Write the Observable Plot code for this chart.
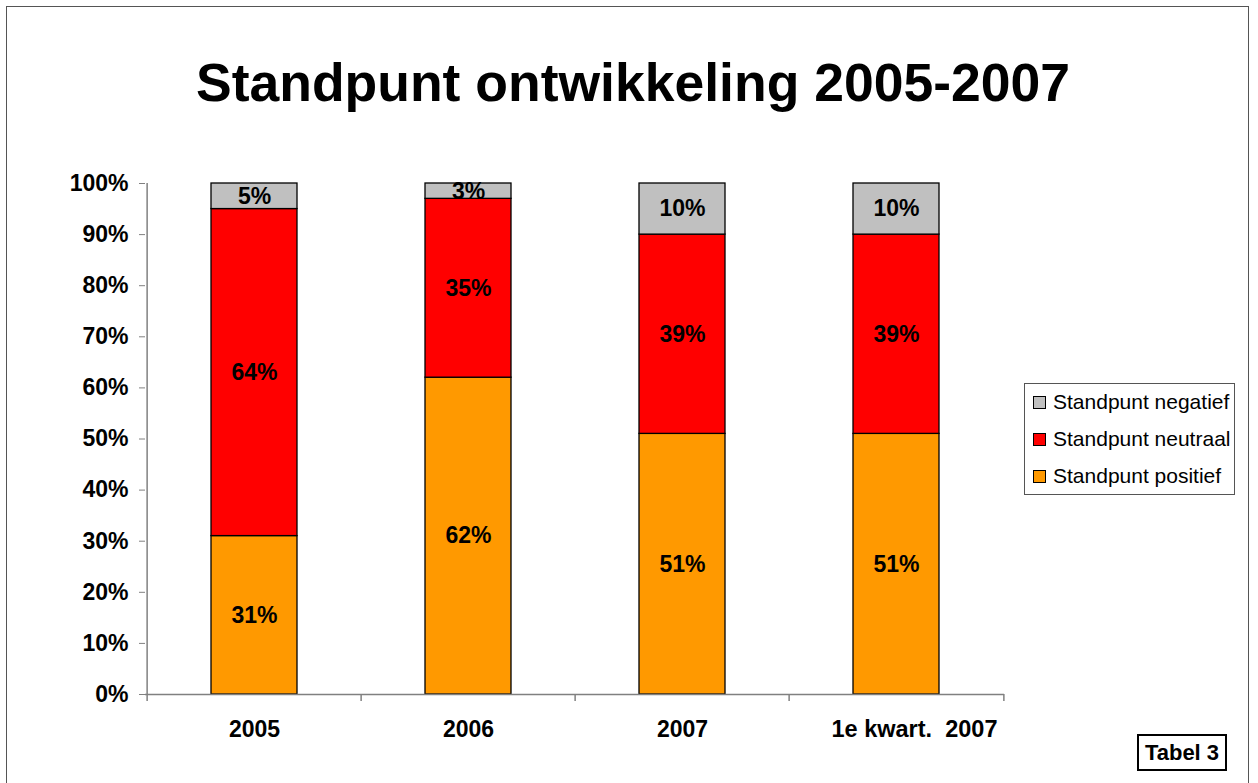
<!DOCTYPE html>
<html><head><meta charset="utf-8">
<script src="https://cdn.jsdelivr.net/npm/d3@7"></script>
<script src="https://cdn.jsdelivr.net/npm/@observablehq/plot@0.6"></script>
<style>
body{margin:0;background:#fff;font-family:"Liberation Sans",Arial,sans-serif;}
#wrap{position:relative;width:1258px;height:783px;overflow:hidden;}
#frame{position:absolute;left:6px;top:6px;width:1241px;height:800px;border:1px solid #555;}
#title{position:absolute;left:0;width:1266px;top:52px;text-align:center;font-weight:bold;font-size:53.5px;}
#legend{position:absolute;left:1024px;top:383px;width:209px;height:110px;border:1px solid #555;font-size:21px;}
.li{position:absolute;left:8px;height:22px;line-height:22px;white-space:nowrap;}
.sw{display:inline-block;width:11px;height:11px;border:1px solid #000;margin-right:7px;vertical-align:0px;}
#tabel{position:absolute;left:1137px;top:734px;width:90px;height:37px;border:2px solid #000;font-weight:bold;font-size:22px;text-align:center;line-height:33px;box-sizing:border-box;}
#chart{position:absolute;left:0;top:0;}
</style></head><body>
<div id="wrap">
<div id="frame"></div>
<div id="title">Standpunt ontwikkeling 2005-2007</div>
<div id="chart"></div>
<div id="legend"></div>
<div id="tabel">Tabel 3</div>
</div>
<script>
const categories = ["2005", "2006", "2007", "1e kwart.  2007"];
const series = ["Standpunt positief", "Standpunt neutraal", "Standpunt negatief"];
const positief = [31, 62, 51, 51];
const neutraal = [64, 35, 39, 39];
const negatief = [5, 3, 10, 10];
const colors = ["#FF9900", "#FF0000", "#C0C0C0"];
const yTicks = [0,10,20,30,40,50,60,70,80,90,100];

const vals = [positief, neutraal, negatief];
const data = [];
categories.forEach((c, i) => {
  series.forEach((s, j) => data.push({cat: c, series: s, value: vals[j][i] / 100}));
});

const W = 1258, H = 783, ml = 145, mr = 254, mt = 183, mb = 89;
const step = (W - ml - mr) / categories.length;
const tickPad = 7 / (H - mt - mb);
const font = '"Liberation Sans", Arial, sans-serif';
const last = categories[categories.length - 1];

const plot = Plot.plot({
  width: W, height: H,
  marginLeft: ml, marginRight: mr, marginTop: mt, marginBottom: mb,
  style: {fontFamily: font, background: "transparent", overflow: "visible"},
  x: {domain: categories, paddingInner: 0.6, paddingOuter: 0.3, label: null},
  y: {domain: [0, 1], label: null},
  color: {domain: series, range: colors},
  marks: [
    Plot.barY(data, Plot.stackY({x: "cat", y: "value", z: "series", fill: "series", order: series, stroke: "#000", strokeWidth: 1.3})),
    Plot.text(data, Plot.stackY({x: "cat", y: "value", z: "series", order: series, text: d => Math.round(d.value * 100) + "%", fontSize: 23, fontWeight: "bold", fill: "#000"})),
    Plot.ruleY([0], {stroke: "#808080", strokeWidth: 1.5}),
    Plot.ruleX(categories, {x: d => d, y1: 0, y2: -tickPad, dx: -step / 2, stroke: "#808080", strokeWidth: 1.5}),
    Plot.ruleX([last], {x: d => d, y1: 0, y2: -tickPad, dx: step / 2, stroke: "#808080", strokeWidth: 1.5}),
    Plot.ruleX([categories[0]], {x: d => d, y1: 0, y2: 1, dx: -step / 2, stroke: "#808080", strokeWidth: 1.5}),
    Plot.axisY({ticks: yTicks.map(v => v / 100), tickFormat: d => Math.round(d * 100) + "%", tickSize: 6, tickPadding: 11, fontSize: 23, fontWeight: "bold", stroke: "#808080", fill: "#000"}),
    Plot.axisX(categories.slice(0, -1), {tickSize: 0, tickPadding: 26, fontSize: 23, fontWeight: "bold", fill: "#000"}),
    Plot.axisX([last], {tickSize: 0, tickPadding: 26, fontSize: 23.5, fontWeight: "bold", fill: "#000", dx: 18})
  ]
});
document.getElementById("chart").appendChild(plot);

const legend = document.getElementById("legend");
[2, 1, 0].forEach((j, k) => {
  const el = document.createElement("div");
  el.className = "li";
  el.style.top = (7 + k * 37) + "px";
  el.innerHTML = `<span class="sw" style="background:${colors[j]}"></span>${series[j]}`;
  legend.appendChild(el);
});
</script>
</body></html>
